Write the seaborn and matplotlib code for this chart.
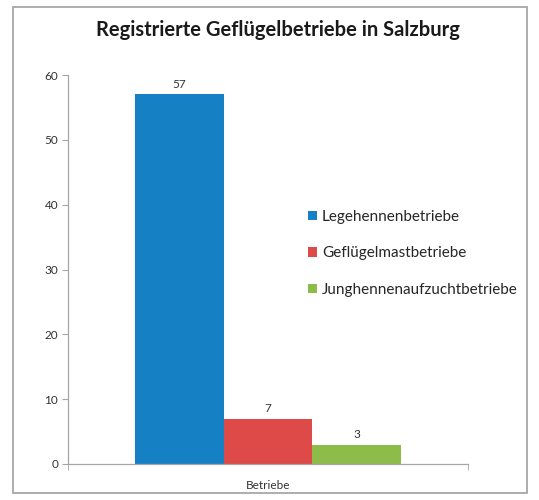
import pandas as pd
import matplotlib.pyplot as plt
import seaborn as sns
from matplotlib.patches import Rectangle

# data
category = ["Betriebe"]
series = ["Legehennenbetriebe", "Geflügelmastbetriebe", "Junghennenaufzuchtbetriebe"]
values = [57, 7, 3]
colors = ["#1580C4", "#DE4A48", "#8DBC4B"]

df = pd.DataFrame({
    "Kategorie": category * len(series),
    "Art": series,
    "Anzahl": values,
})

sns.set_style("white")
plt.rcParams["font.family"] = ["Lato", "DejaVu Sans"]

fig = plt.figure(figsize=(5.39, 5.0), dpi=100)
ax = fig.add_axes([68 / 539, 1 - 464 / 500, 400 / 539, 389 / 500])

sns.barplot(data=df, x="Kategorie", y="Anzahl", hue="Art", palette=colors,
            width=0.667, saturation=1, linewidth=0, ax=ax, legend=True)

ax.set_xlim(-0.5, 0.5)
ax.set_ylim(0, 60)
ax.set_yticks(range(0, 61, 10))
ax.set_xlabel("")
ax.set_ylabel("")

for c in ax.containers:
    ax.bar_label(c, padding=3, fontsize=8.5, color="#333333")

for s in ["top", "right"]:
    ax.spines[s].set_visible(False)
for s in ["left", "bottom"]:
    ax.spines[s].set_color("#A6A6A6")
    ax.spines[s].set_linewidth(0.9)

ax.tick_params(axis="y", left=True, length=4, color="#A6A6A6", labelsize=8.5,
               labelcolor="#333333", pad=3)
ax.tick_params(axis="x", bottom=False, labelsize=8.5, labelcolor="#333333", pad=8)
ax.set_xticks([-0.5, 0.5], minor=True)
ax.tick_params(axis="x", which="minor", bottom=True, length=4, color="#A6A6A6")

handles, labels = ax.get_legend_handles_labels()
ax.legend(handles, labels, loc="upper left", bbox_to_anchor=(0.585, 0.668),
          frameon=False, fontsize=11, handlelength=0.55, handleheight=0.55,
          handletextpad=0.35, labelspacing=1.45, borderaxespad=0)

fig.text(278 / 539, 1 - 30 / 500, "Registrierte Geflügelbetriebe in Salzburg",
         ha="center", va="center", fontsize=14.5, fontweight="bold", color="#1a1a1a")

fig.patches.append(Rectangle((13 / 539, 1 - 493 / 500), 514 / 539, 486 / 500,
                             transform=fig.transFigure, fill=False,
                             edgecolor="#A0A0A0", linewidth=1.2))

fig.savefig("out.png", dpi=100)
